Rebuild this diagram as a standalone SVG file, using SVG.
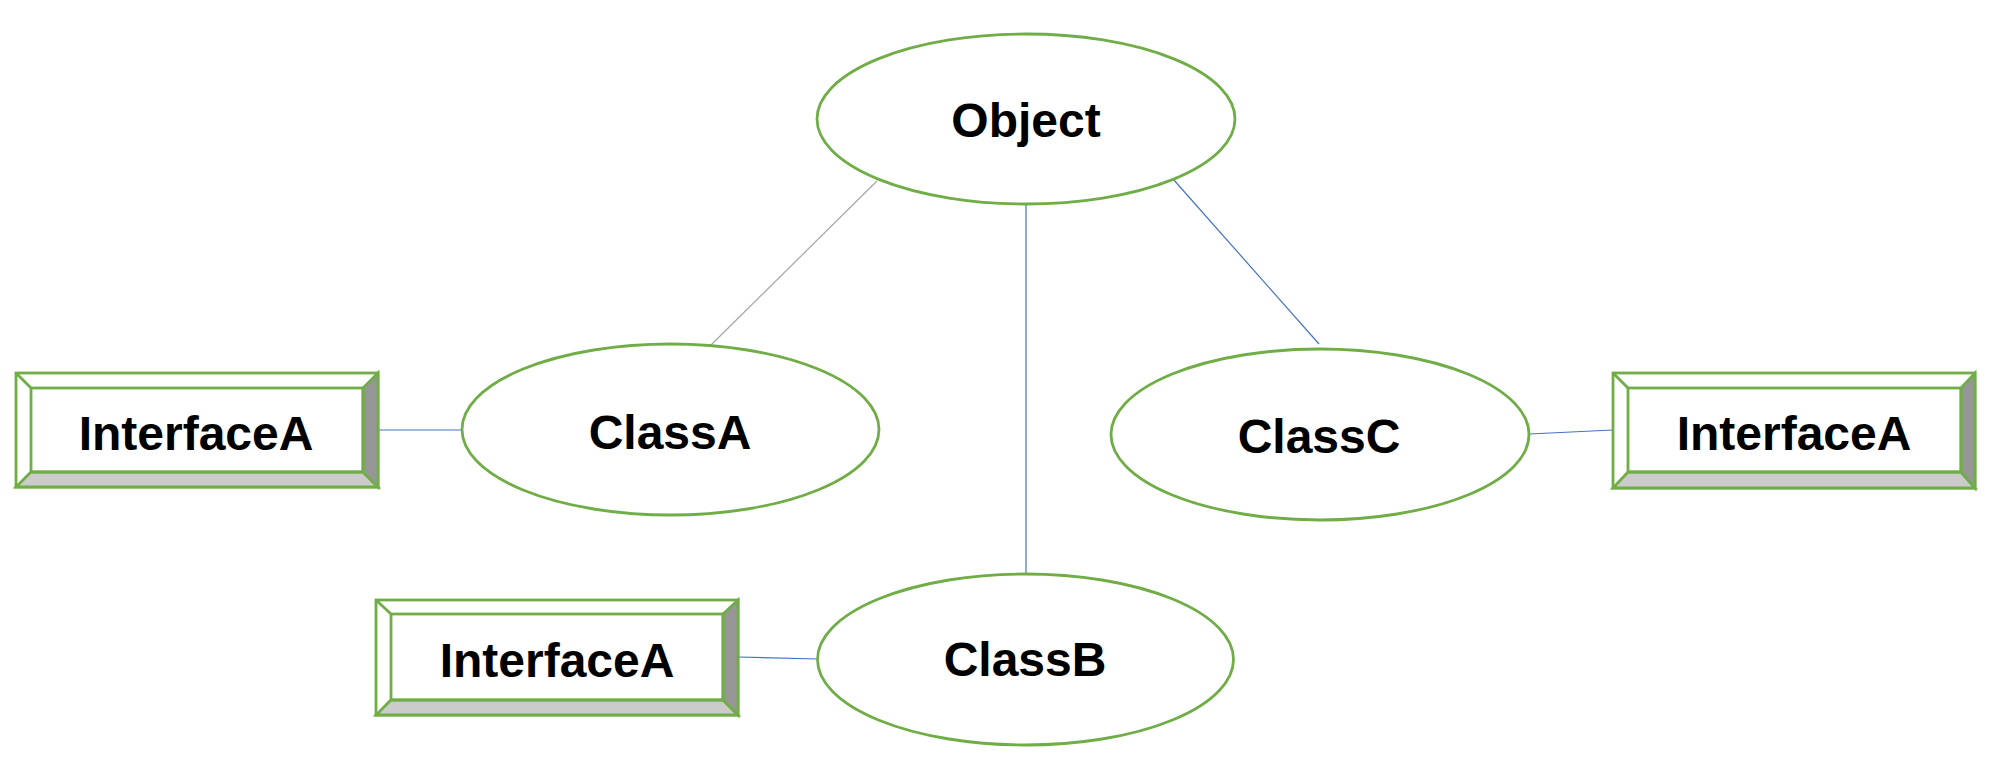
<svg xmlns="http://www.w3.org/2000/svg" width="2000" height="782" viewBox="0 0 2000 782">
<style>
.ell{fill:#fff;stroke:#70AD47;stroke-width:2.8}
.out{fill:#fff;stroke:#70AD47;stroke-width:2.8}
.bot{fill:#CBCBCB;stroke:#70AD47;stroke-width:2.8;stroke-linejoin:miter}
.rgt{fill:#969696;stroke:#70AD47;stroke-width:2.8}
.edge{fill:none;stroke:#70AD47;stroke-width:2.8}
.lbl{font-family:"Liberation Sans",Arial,sans-serif;font-weight:bold;font-size:48px;fill:#000;text-anchor:middle}
.blue{stroke:#4472C4;stroke-width:1.2;fill:none}
.gray{stroke:#A5A5A5;stroke-width:1.2;fill:none}
</style>
<rect width="2000" height="782" fill="#fff"/>
<g id="connectors">
<line class="gray" x1="877" y1="181" x2="711" y2="345"/>
<line class="blue" x1="1026" y1="204" x2="1026" y2="574"/>
<line class="blue" x1="1173" y1="179" x2="1319" y2="344"/>
<line class="blue" x1="378" y1="430" x2="462" y2="430"/>
<line class="blue" x1="1529" y1="434" x2="1613" y2="430"/>
<line class="blue" x1="738" y1="657" x2="818" y2="659"/>
</g>
<g id="object">
<ellipse class="ell" cx="1026" cy="119" rx="209" ry="85"/>
<text class="lbl" x="1026" y="137">Object</text>
</g>
<g id="classA">
<ellipse class="ell" cx="670.5" cy="429.5" rx="208.5" ry="85.5"/>
<text class="lbl" x="670" y="449">ClassA</text>
</g>
<g id="classC">
<ellipse class="ell" cx="1320" cy="434.5" rx="209" ry="85.5"/>
<text class="lbl" x="1319" y="453">ClassC</text>
</g>
<g id="classB">
<ellipse class="ell" cx="1025.5" cy="659.5" rx="208" ry="85.5"/>
<text class="lbl" x="1025" y="676">ClassB</text>
</g>
<g id="interfaceA-left">
<rect class="out" x="16" y="373" width="362" height="114"/>
<polygon class="bot" points="16,487 378,487 363,472 31,472"/>
<polygon class="rgt" points="378,373 378,487 363,472 363,388"/>
<line class="edge" x1="16" y1="373" x2="31" y2="388"/>
<rect class="edge" x="31" y="388" width="332" height="84"/>
<text class="lbl" x="196" y="450">InterfaceA</text>
</g>
<g id="interfaceA-bottom">
<rect class="out" x="376" y="600" width="362" height="115"/>
<polygon class="bot" points="376,715 738,715 723,700 391,700"/>
<polygon class="rgt" points="738,600 738,715 723,700 723,614"/>
<line class="edge" x1="376" y1="600" x2="391" y2="614"/>
<rect class="edge" x="391" y="614" width="332" height="86"/>
<text class="lbl" x="557" y="677">InterfaceA</text>
</g>
<g id="interfaceA-right">
<rect class="out" x="1613" y="373" width="362" height="115"/>
<polygon class="bot" points="1613,488 1975,488 1961,472 1628,472"/>
<polygon class="rgt" points="1975,373 1975,488 1961,472 1961,388"/>
<line class="edge" x1="1613" y1="373" x2="1628" y2="388"/>
<rect class="edge" x="1628" y="388" width="333" height="84"/>
<text class="lbl" x="1794" y="450">InterfaceA</text>
</g>
</svg>
